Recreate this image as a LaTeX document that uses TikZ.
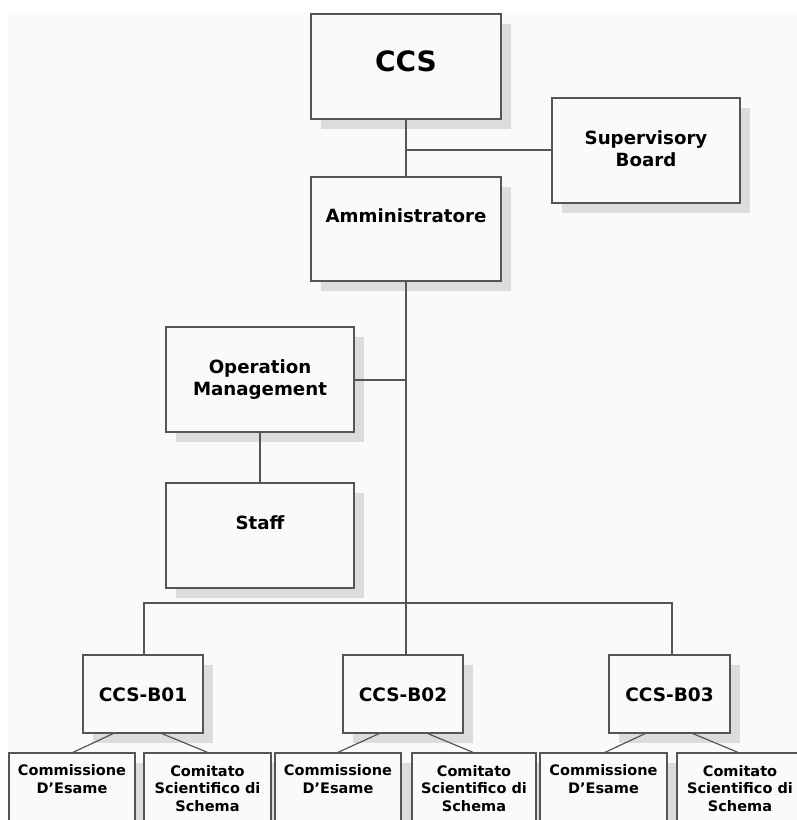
\documentclass[tikz,border=0pt]{standalone}
\usepackage{fontspec}
\setmainfont{DejaVu Sans}
\usetikzlibrary{shadows}
\definecolor{bgcol}{HTML}{FAFAFA}
\definecolor{boxline}{HTML}{555555}
\definecolor{shadowcol}{HTML}{DCDCDC}
\tikzset{
  orgbox/.style={draw=boxline, fill=bgcol, line width=1.3pt, inner sep=0pt,
    general shadow={fill=shadowcol, shadow xshift=10pt, shadow yshift=-10pt}},
  bigbox/.style={orgbox, minimum width=190pt, minimum height=105pt},
  midbox/.style={orgbox, minimum width=120pt, minimum height=78pt},
  lowbox/.style={orgbox, minimum width=126pt, minimum height=110pt},
  conn/.style={draw=boxline, line width=1.2pt},
  lbl/.style={font=\bfseries\fontsize{18.2}{21.5}\selectfont, align=center, anchor=base, inner sep=0pt},
  sublbl/.style={font=\bfseries\fontsize{14.5}{17.5}\selectfont, align=center, anchor=base, inner sep=0pt},
}
\begin{document}
\begin{tikzpicture}[x=1pt,y=-1pt]
\useasboundingbox (0,0) rectangle (797,820);
\clip (0,0) rectangle (797,820);
\fill[white] (0,0) rectangle (797,820);
\fill[bgcol] (8,12) rectangle (797,820);

% boxes
\node[bigbox] (ccs) at (406,66.5) {};
\node[bigbox, minimum width=188pt] (sup) at (646,150.5) {};
\node[bigbox, minimum height=104pt] (amm) at (406,229) {};
\node[bigbox, minimum width=188pt] (om) at (260,379.5) {};
\node[bigbox, minimum width=188pt] (staff) at (260,535.5) {};
\node[midbox] (b1) at (143,694) {};
\node[midbox] (b2) at (403,694) {};
\node[midbox, minimum width=121pt] (b3) at (669.5,694) {};
\node[lowbox] (c1) at (72,808) {};
\node[lowbox, minimum width=127pt] (s1) at (207.5,808) {};
\node[lowbox] (c2) at (338,808) {};
\node[lowbox, minimum width=124pt] (s2) at (474,808) {};
\node[lowbox, minimum width=127pt] (c3) at (603.5,808) {};
\node[lowbox] (s3) at (740,808) {};

% labels (base anchor = baseline of last line)
\node[lbl, font=\bfseries\fontsize{28}{32}\selectfont] (tccs) at (406,71) {CCS};
\node[lbl] (tsup) at (646,166) {Supervisory\\Board};
\node[lbl] (tamm) at (406,222) {Amministratore};
\node[lbl] (tom) at (260,395) {Operation\\Management};
\node[lbl] (tstaff) at (260,529) {Staff};
\node[lbl, font=\bfseries\fontsize{18.5}{21}\selectfont] (tb1) at (143,701.5) {CCS-B01};
\node[lbl, font=\bfseries\fontsize{18.5}{21}\selectfont] (tb2) at (403,701.5) {CCS-B02};
\node[lbl, font=\bfseries\fontsize{18.5}{21}\selectfont] (tb3) at (669.5,701.5) {CCS-B03};
\node[sublbl] (tc1) at (72,793) {Commissione\\D’Esame};
\node[sublbl] (ts1) at (207.5,811) {Comitato\\Scientifico di\\Schema};
\node[sublbl] (tc2) at (338,793) {Commissione\\D’Esame};
\node[sublbl] (ts2) at (474,811) {Comitato\\Scientifico di\\Schema};
\node[sublbl] (tc3) at (603.5,793) {Commissione\\D’Esame};
\node[sublbl] (ts3) at (740,811) {Comitato\\Scientifico di\\Schema};

% connectors
\coordinate (jsup) at (406,150);
\coordinate (jom) at (406,380);
\coordinate (busl) at (144,603);
\coordinate (busr) at (672,603);
\draw[conn] (ccs.south) -- (amm.north);
\draw[conn] (jsup) -- (sup.west |- jsup);
\draw[conn] (amm.south) -- (amm.south |- b2.north);
\draw[conn] (om.east |- jom) -- (jom);
\draw[conn] (om.south) -- (staff.north);
\draw[conn] (busl |- b1.north) -- (busl) -- (busr) -- (busr |- b3.north);
\draw[conn] ([xshift=-30pt]b1.south) -- ([xshift=1pt]c1.north);
\draw[conn] ([xshift=19pt]b1.south) -- ([xshift=0pt]s1.north);
\draw[conn] ([xshift=-24pt]b2.south) -- ([xshift=0pt]c2.north);
\draw[conn] ([xshift=25pt]b2.south) -- ([xshift=-1pt]s2.north);
\draw[conn] ([xshift=-24.5pt]b3.south) -- ([xshift=1.5pt]c3.north);
\draw[conn] ([xshift=23.5pt]b3.south) -- ([xshift=-2pt]s3.north);
\end{tikzpicture}
\end{document}
